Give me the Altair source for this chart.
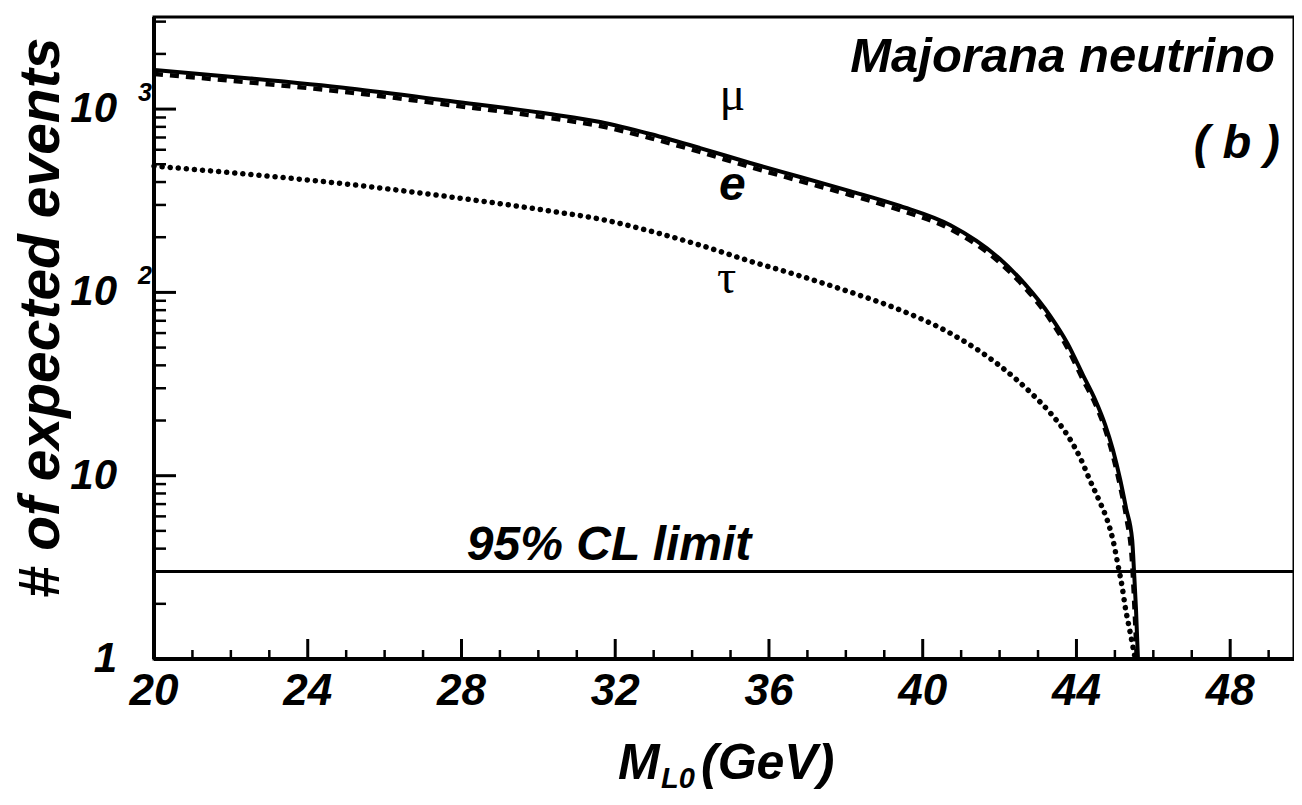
import altair as alt
import pandas as pd

# ---- data ----
mass_mu = [20.0, 22.5, 25.1, 27.7, 30.3, 31.61, 32.91, 34.21, 35.51, 36.81, 38.11,
           39.41, 40.71, 42.01, 42.66, 43.32, 43.76, 44.17, 44.49, 44.75, 44.95,
           45.14, 45.29, 45.45, 45.5, 45.55, 45.6]
events_mu = [1635, 1469, 1295, 1107, 940, 850, 731, 613, 508, 426, 357,
             296, 233, 152, 111, 74.3, 53.0, 35.4, 25.9, 18.9, 13.8,
             9.47, 6.66, 4.46, 2.95, 1.85, 1.0]

mass_e = [20.0, 22.5, 25.1, 27.7, 30.3, 31.61, 32.91, 34.21, 35.51, 36.81, 38.11,
          39.41, 40.71, 42.01, 42.66, 43.32, 43.76, 44.17, 44.49, 44.75, 44.95,
          45.14, 45.29, 45.45, 45.5, 45.57]
events_e = [1555, 1397, 1232, 1053, 894, 808, 695, 583, 483, 405, 340,
            281, 222, 145, 106, 70.7, 50.0, 33.3, 24.6, 17.8, 12.8,
            8.67, 6.03, 3.30, 2.10, 1.0]

mass_tau = [20.0, 22.5, 25.1, 27.7, 30.3, 31.61, 32.91, 34.21, 35.51, 36.81, 38.11,
            39.41, 40.71, 42.01, 42.87, 43.32, 43.76, 44.1, 44.36, 44.62, 44.8,
            44.95, 45.08, 45.19, 45.27, 45.4, 45.53]
events_tau = [489, 440, 388, 332, 278, 251, 216, 181, 148, 123, 100.5,
              80.2, 60.0, 39.7, 27.6, 22.0, 16.7, 12.5, 9.35, 7.10, 5.73,
              4.46, 3.26, 2.47, 1.92, 1.39, 1.0]

cl_limit = 3.0

x_major = [20, 24, 28, 32, 36, 40, 44, 48]
x_minor = [21, 22, 23, 25, 26, 27, 29, 30, 31, 33, 34, 35, 37, 38, 39, 41, 42, 43,
           45, 46, 47, 49]
x_labels = ["20", "24", "28", "32", "36", "40", "44", "48"]
y_major = [1, 10, 100, 1000]
y_labels = ["1", "10", "10", "10"]
y_exp_values = [100, 1000]
y_exp_labels = ["2", "3"]
y_minor = [2, 3, 4, 5, 6, 7, 8, 9, 20, 30, 40, 50, 60, 70, 80, 90,
           200, 300, 400, 500, 600, 700, 800, 900, 2000, 3000]

# ---- layout ----
W, H = 1140, 642
XMAX = 49.66
YMAX = 3180
FONT = "Liberation Sans"
SERIF = "Liberation Serif"

xs = alt.Scale(domain=[20, XMAX], nice=False, zero=False)
ys = alt.Scale(type="log", domain=[1, YMAX], nice=False)


def X(field):
    return alt.X(field, scale=xs, axis=None)


def Y(field):
    return alt.Y(field, scale=ys, axis=None)


df_mu = pd.DataFrame({"mass": mass_mu, "events": events_mu})
df_e = pd.DataFrame({"mass": mass_e, "events": events_e})
df_tau = pd.DataFrame({"mass": mass_tau, "events": events_tau})

e_line = alt.Chart(df_e).mark_line(color="black", strokeWidth=4.5, strokeDash=[9, 7],
                                   interpolate="monotone").encode(
    x=X("mass:Q"), y=Y("events:Q"))
mu_line = alt.Chart(df_mu).mark_line(color="black", strokeWidth=4,
                                     interpolate="monotone").encode(
    x=X("mass:Q"), y=Y("events:Q"))
tau_line = alt.Chart(df_tau).mark_line(color="black", strokeWidth=5.5, strokeDash=[0.1, 8],
                                       strokeCap="round", interpolate="monotone").encode(
    x=X("mass:Q"), y=Y("events:Q"))

cl_rule = alt.Chart(pd.DataFrame({"v": [cl_limit]})).mark_rule(
    color="black", strokeWidth=3).encode(y=Y("v:Q"), x=alt.value(0), x2=alt.value(W))

# frame: thicker left and bottom axis lines
left_ax = alt.Chart(pd.DataFrame({"v": [1, YMAX]})).mark_rule(
    color="black", strokeWidth=4).encode(
    x=alt.value(0), y=alt.value(0), y2=alt.value(H))
bottom_ax = alt.Chart(pd.DataFrame({"v": [20]})).mark_rule(
    color="black", strokeWidth=4).encode(
    y=alt.value(H), x=alt.value(0), x2=alt.value(W))

xt_major = alt.Chart(pd.DataFrame({"t": x_major})).mark_rule(
    color="black", strokeWidth=3).encode(x=X("t:Q"), y=alt.value(H), y2=alt.value(H - 20))
xt_minor = alt.Chart(pd.DataFrame({"t": x_minor})).mark_rule(
    color="black", strokeWidth=2.5).encode(x=X("t:Q"), y=alt.value(H), y2=alt.value(H - 9))
yt_major = alt.Chart(pd.DataFrame({"t": y_major})).mark_rule(
    color="black", strokeWidth=3).encode(y=Y("t:Q"), x=alt.value(0), x2=alt.value(22))
yt_minor = alt.Chart(pd.DataFrame({"t": y_minor})).mark_rule(
    color="black", strokeWidth=2.5).encode(y=Y("t:Q"), x=alt.value(0), x2=alt.value(12))

# tick labels
xlab = alt.Chart(pd.DataFrame({"t": x_major, "s": x_labels})).mark_text(
    font=FONT, fontSize=44, fontStyle="italic", fontWeight="bold", color="black",
    align="center", baseline="alphabetic").encode(
    x=X("t:Q"), y=alt.value(H + 46), text="s:N")
ylab = alt.Chart(pd.DataFrame({"t": y_major, "s": y_labels})).mark_text(
    font=FONT, fontSize=42, fontStyle="italic", fontWeight="bold", color="black",
    align="right", baseline="middle").encode(
    y=Y("t:Q"), x=alt.value(-37), text="s:N")
exps = alt.Chart(pd.DataFrame({"v": y_exp_values, "s": y_exp_labels})).mark_text(
    font=FONT, fontSize=25, fontStyle="italic", fontWeight="bold", color="black",
    align="center", baseline="middle", dy=-16).encode(
    y=Y("v:Q"), x=alt.value(-9), text="s:N")

# curve labels
lab_df = pd.DataFrame({
    "mass": [35.05, 35.05, 34.9],
    "events": [990, 319, 99],
    "s": ["μ", "e", "τ"],
})
greek = alt.Chart(lab_df[lab_df.s != "e"]).mark_text(
    font=SERIF, fontSize=48, color="black", align="center", baseline="alphabetic").encode(
    x=X("mass:Q"), y=Y("events:Q"), text="s:N")
elab = alt.Chart(lab_df[lab_df.s == "e"]).mark_text(
    font=FONT, fontSize=48, fontStyle="italic", fontWeight="bold", color="black",
    align="center", baseline="alphabetic").encode(
    x=X("mass:Q"), y=Y("events:Q"), text="s:N")

cl_text = alt.Chart(pd.DataFrame({"mass": [31.84], "events": [3.47],
                                  "s": ["95% CL limit"]})).mark_text(
    font=FONT, fontSize=48, fontStyle="italic", fontWeight="bold", color="black",
    align="center", baseline="alphabetic").encode(
    x=X("mass:Q"), y=Y("events:Q"), text="s:N")


def ptext(s, x, y, size, align="left", angle=0, baseline="alphabetic"):
    return alt.Chart(pd.DataFrame({"s": [s]})).mark_text(
        font=FONT, fontSize=size, fontStyle="italic", fontWeight="bold", color="black",
        align=align, baseline=baseline, angle=angle).encode(
        text="s:N", x=alt.value(x), y=alt.value(y))


title_maj = ptext("Majorana neutrino", 1121, 55, 49, align="right")
title_b = ptext("( b )", 1126, 141, 47, align="right")
xt_M = ptext("M", 464, 762, 50)
xt_sub = ptext("L0", 507, 771, 29)
xt_gev = ptext("(GeV)", 547, 762, 50)
ytitle = ptext("# of expected events", -112, 301, 57, align="center", angle=270,
               baseline="middle")

chart = alt.layer(
    e_line, mu_line, tau_line, cl_rule, left_ax, bottom_ax,
    xt_major, xt_minor, yt_major, yt_minor, xlab, ylab, exps,
    greek, elab, cl_text, title_maj, title_b, xt_M, xt_sub, xt_gev, ytitle,
).properties(
    width=W, height=H,
    autosize=alt.AutoSizeParams(type="none"),
    padding={"left": 146, "top": 9, "right": 0, "bottom": 138},
    background="white",
).configure_view(
    stroke="black", strokeWidth=3,
)

chart.save("out.html", embed_options={"renderer": "svg", "actions": False})
